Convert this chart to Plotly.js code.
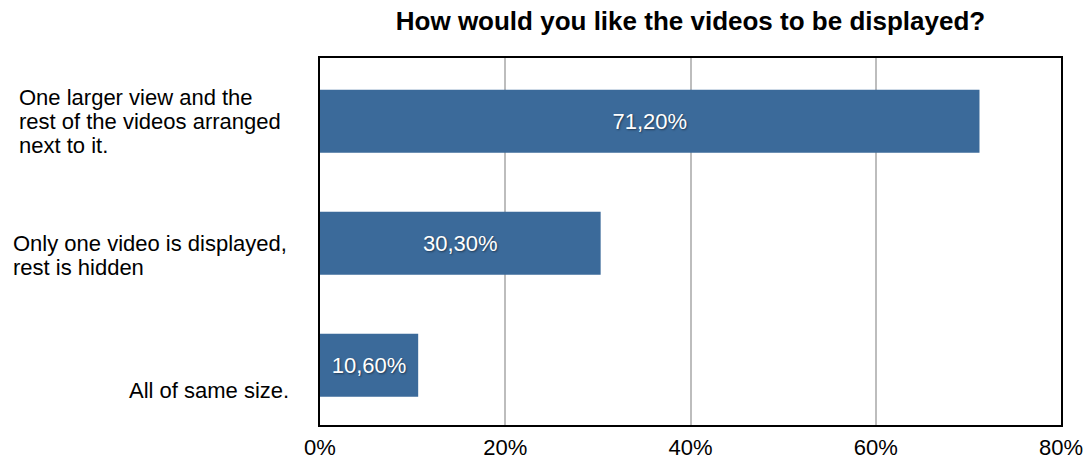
<!DOCTYPE html>
<html>
<head>
<meta charset="utf-8">
<script src="https://cdn.plot.ly/plotly-3.0.1.min.js"></script>
<style>html,body{margin:0;padding:0;background:#fff;}#chart{width:1087px;height:463px;}</style>
</head>
<body>
<div id="chart"></div>
<script>
// ---- data ----
const categories = [
  "One larger view and the<br>rest of the videos arranged<br>next to it.",
  "Only one video is displayed,<br>rest is hidden",
  "All of same size."
];
const values = [71.2, 30.3, 10.6];
const tickVals = [0, 20, 40, 60, 80];
const tickLabels = ["0%", "20%", "40%", "60%", "80%"];
const chartTitle = "How would you like the videos to be displayed?";

// ---- label placement (layout only) ----
const FONT = "Liberation Sans, Arial, Helvetica, sans-serif";
const labelStyle = [
  {anchor: "left", xshift: -303, firstLine: -24},
  {anchor: "left", xshift: -309, firstLine: 0},
  {anchor: "right", xshift: -29, firstLine: 25}
];
const LINE = 24;

const annotations = [];
categories.forEach((cat, i) => {
  const lines = cat.split("<br>");
  const st = labelStyle[i];
  lines.forEach((ln, j) => {
    annotations.push({
      xref: "paper", yref: "y", x: 0, y: cat,
      xshift: st.xshift, yshift: -(st.firstLine + j * LINE),
      xanchor: st.anchor, yanchor: "middle",
      text: ln, showarrow: false,
      font: {family: FONT, size: 22, color: "#000"}
    });
  });
});

const trace = {
  type: "bar",
  orientation: "h",
  x: values,
  y: categories,
  width: 0.516,
  marker: {color: "#3b6a9a", line: {width: 0}},
  texttemplate: "%{x:.2f}%",
  textposition: "inside",
  insidetextanchor: "middle",
  textangle: 0,
  textfont: {family: FONT, size: 22, color: "#ffffff", shadow: "1px 1px 2px rgba(0,0,0,0.45)"},
  hoverinfo: "skip"
};

const layout = {
  width: 1087, height: 463,
  margin: {l: 320, r: 26, t: 58, b: 38, pad: 0},
  paper_bgcolor: "#fff", plot_bgcolor: "#fff",
  separators: ",.",
  showlegend: false,
  title: {
    text: "<b>" + chartTitle + "</b>",
    x: 0.5, xref: "paper", xanchor: "center",
    y: 1 - 21 / 463, yref: "container", yanchor: "middle",
    font: {family: FONT, size: 26, color: "#000"}
  },
  xaxis: {
    range: [0, 80],
    tickvals: tickVals, ticktext: tickLabels,
    showgrid: true, gridcolor: "#bdbdbd", gridwidth: 2,
    zeroline: false,
    showline: true, linecolor: "#000", linewidth: 2, mirror: true,
    ticks: "", ticklabelstandoff: 2,
    tickfont: {family: FONT, size: 22, color: "#000"},
    fixedrange: true
  },
  yaxis: {
    type: "category",
    range: [2.489, -0.519],
    showticklabels: false,
    showgrid: false, zeroline: false,
    showline: true, linecolor: "#000", linewidth: 2, mirror: true,
    ticks: "",
    fixedrange: true
  },
  annotations: annotations
};

Plotly.newPlot("chart", [trace], layout, {displayModeBar: false, staticPlot: true});
</script>
</body>
</html>
